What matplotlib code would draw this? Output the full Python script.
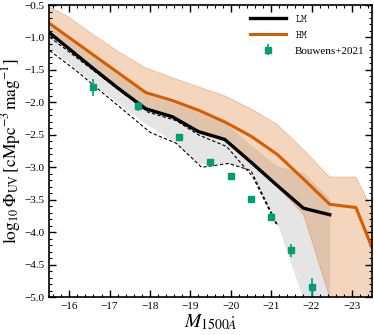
import numpy as np
import matplotlib
matplotlib.use('Agg')
import matplotlib.pyplot as plt
from matplotlib.ticker import MultipleLocator

plt.rcParams['font.family'] = 'serif'
plt.rcParams['font.serif'] = ['Liberation Serif', 'DejaVu Serif']
plt.rcParams['mathtext.fontset'] = 'stix'

# magnitude bins of the model curves
mbins = [-15.3, -15.95, -16.6, -17.25, -17.9, -18.55, -19.2, -19.85,
         -20.5, -21.15, -21.8, -22.45, -23.1, -23.75]

# LM model: median and band
lm_med = [-0.82, -1.15, -1.48, -1.80, -2.10, -2.22, -2.45, -2.57,
          -2.92, -3.28, -3.63, -3.73]
lm_hi = [-0.72, -1.01, -1.30, -1.59, -1.88, -2.0, -2.15, -2.31,
         -2.66, -2.98, -3.08, -3.48]
lm_lo = [-1.05, -1.38, -1.71, -2.03, -2.33, -2.59, -2.95, -2.93,
         -3.05, -3.86, -5.05, -5.6]

# HM model: median and band
hm_med = [-0.69, -0.98, -1.27, -1.56, -1.85, -1.97, -2.12, -2.30,
          -2.52, -2.80, -3.18, -3.57, -3.62, -4.63]
hm_hi = [-0.47, -0.67, -0.96, -1.23, -1.47, -1.62, -1.76, -1.90,
         -2.10, -2.34, -2.73, -3.15, -3.15, -3.96]
hm_lo = [-0.84, -1.17, -1.50, -1.82, -2.12, -2.24, -2.47, -2.59,
         -2.94, -3.30, -3.72, -5.0, -6.0, -6.0]

# dashed LM variants
dash1_m = [-15.3, -17.95, -18.65, -19.2, -19.9, -20.55, -21.12]
dash1_y = [-0.89, -2.15, -2.28, -2.50, -2.68, -3.15, -3.87]
dash2_m = [-15.3, -16.15, -18.0, -18.65, -19.28, -19.95, -20.5, -21.15]
dash2_y = [-1.10, -1.50, -2.46, -2.63, -3.00, -2.94, -3.05, -3.88]

# Bouwens+2021 data
obs_m = [-16.6, -17.7, -18.73, -19.48, -20.0, -20.5, -21.0, -21.5, -22.0]
obs_y = [-1.77, -2.06, -2.53, -2.92, -3.14, -3.49, -3.77, -4.28, -4.85]
obs_err = [0.13, 0.07, 0.05, 0.04, 0.04, 0.04, 0.06, 0.1, 0.15]

c_hm = '#d55e00'
c_obs = '#029e73'

fig = plt.figure(figsize=(3.74, 3.35), dpi=100)
ax = fig.add_axes([0.131, 0.113, 0.864, 0.872])

nlm = len(lm_med)
ax.fill_between(mbins[:nlm], lm_lo, lm_hi, color='gray', alpha=0.2, lw=0)
ax.fill_between(mbins, hm_lo, hm_hi, color=c_hm, alpha=0.25, lw=0.8)
ax.plot(dash1_m, dash1_y, 'k--', lw=0.8, dashes=(3, 2))
ax.plot(dash2_m, dash2_y, 'k--', lw=0.8, dashes=(3, 2))
ax.plot(mbins[:nlm], lm_med, color='k', lw=2.4, label=r'$\mathtt{LM}$')
ax.plot(mbins, hm_med, color=c_hm, lw=2.2, label=r'$\mathtt{HM}$')
ax.errorbar(obs_m, obs_y, yerr=obs_err, fmt='s', color=c_obs, ms=4.5,
            elinewidth=1.2, capsize=0, label='Bouwens+2021')

ax.set_xlim(-15.5, -23.5)
ax.set_ylim(-5.0, -0.5)
ax.xaxis.set_major_locator(MultipleLocator(1))
ax.xaxis.set_minor_locator(MultipleLocator(0.2))
ax.yaxis.set_major_locator(MultipleLocator(0.5))
ax.yaxis.set_minor_locator(MultipleLocator(0.1))
ax.tick_params(which='both', direction='in', top=True, right=True, labelsize=8)
ax.tick_params(which='major', length=5, width=1)
ax.tick_params(which='minor', length=2.5, width=0.8)
for s in ax.spines.values():
    s.set_linewidth(1.2)

ax.set_xlabel(r'$M_{1500\mathring{A}}$', fontsize=14, labelpad=1)
ax.set_ylabel(r'$\log_{10}\Phi_{\rm UV}\,[{\rm cMpc^{-3}\,mag^{-1}}]$',
              fontsize=12.5)
ax.yaxis.set_label_coords(-0.08, 0.5)

leg = ax.legend(loc='upper right', frameon=False, fontsize=8,
                handlelength=3.2, borderaxespad=0.3, labelspacing=0.5)

fig.savefig('out.png', dpi=100)
